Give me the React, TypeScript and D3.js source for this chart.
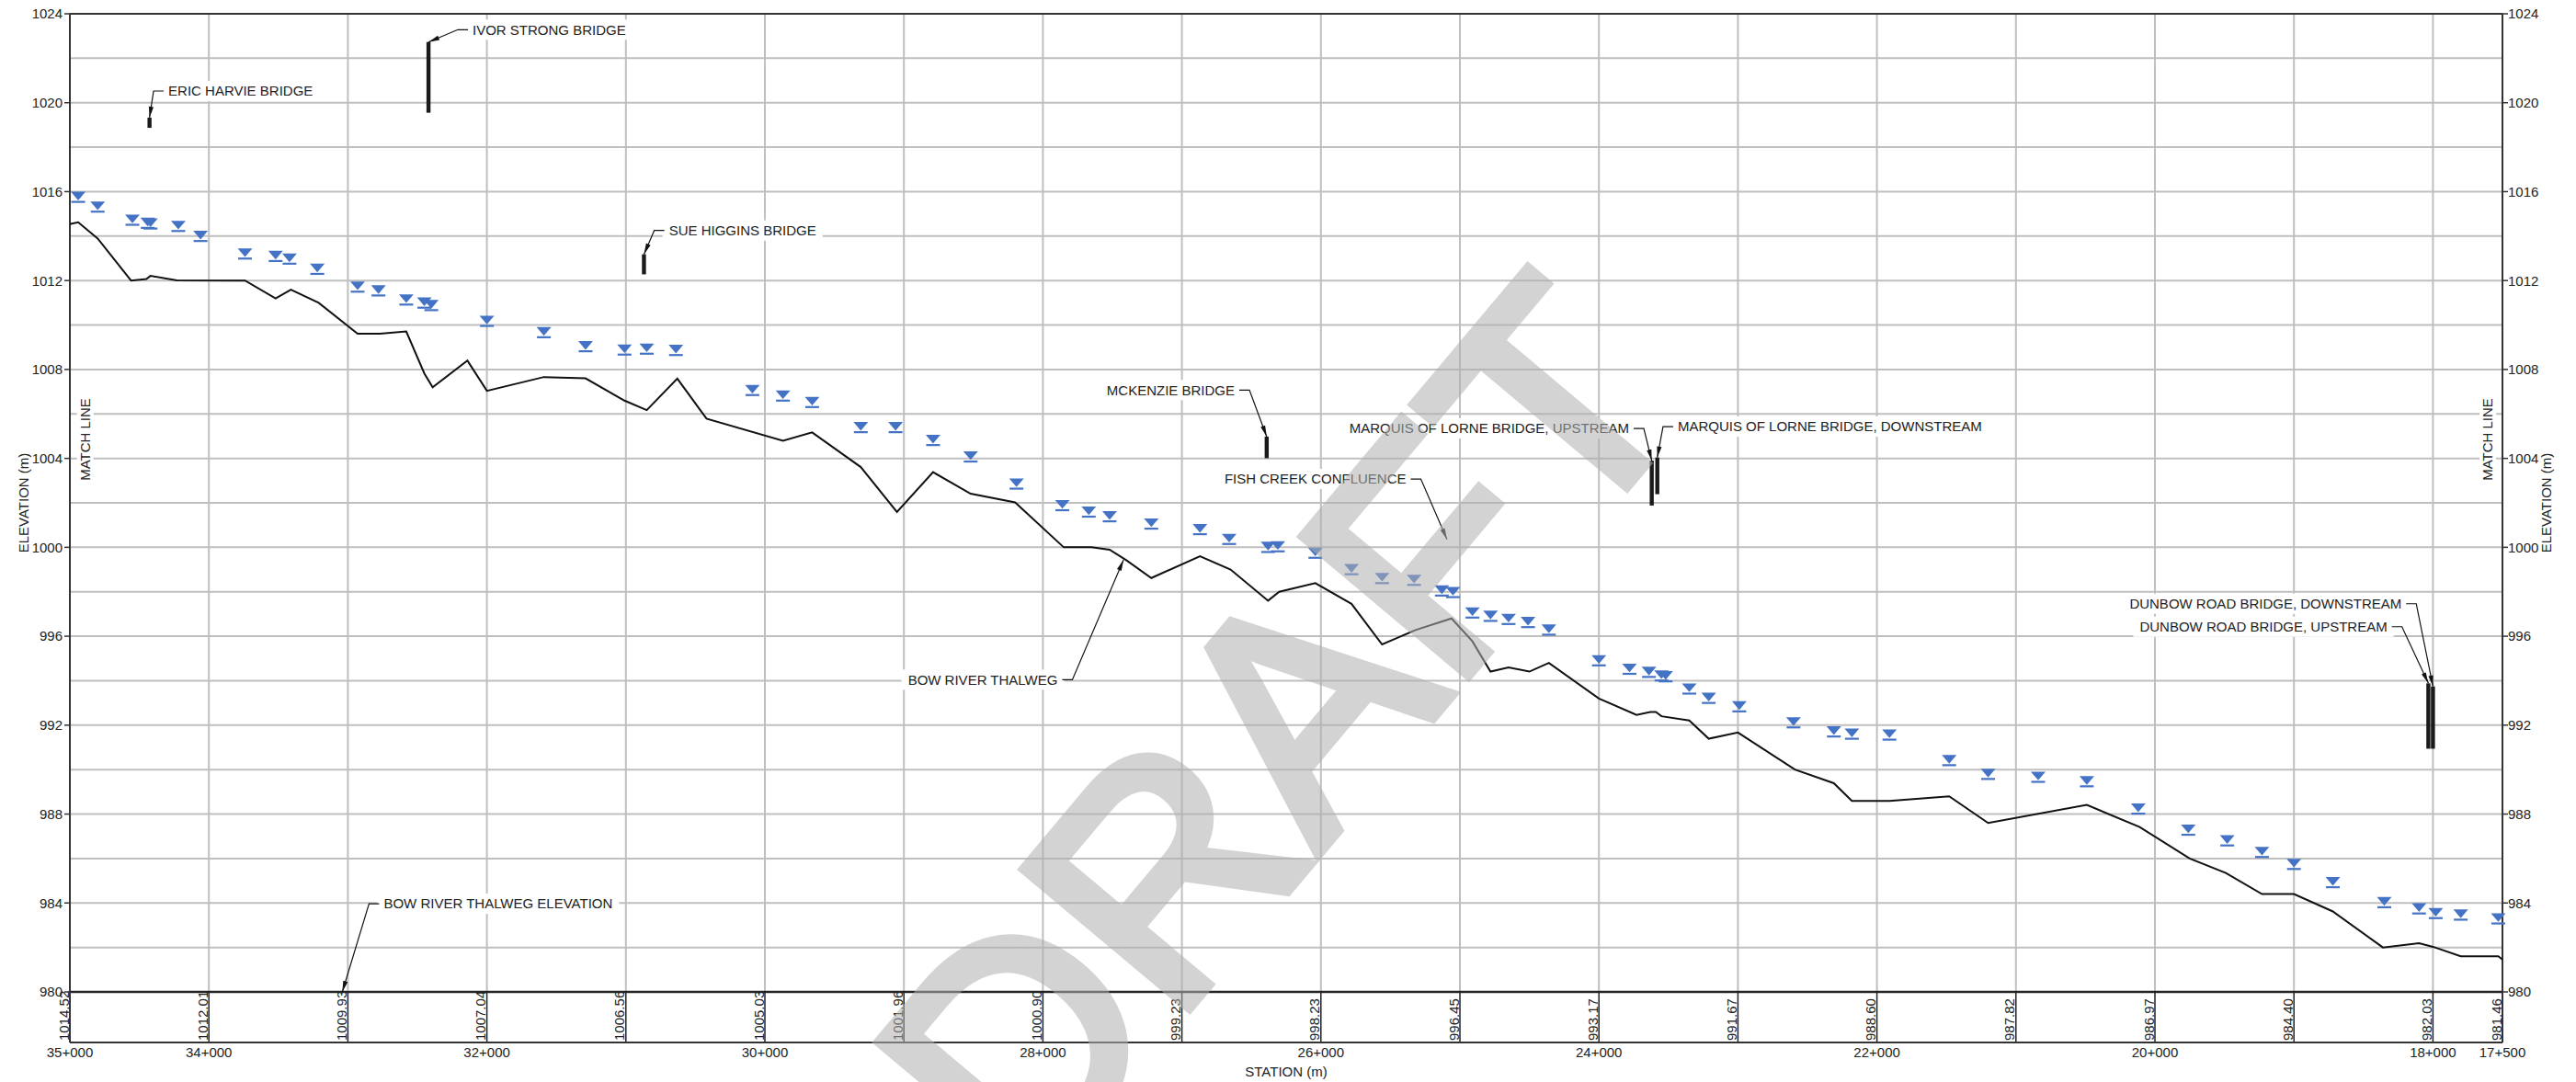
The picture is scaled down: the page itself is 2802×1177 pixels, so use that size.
import React, { useEffect, useRef } from 'react';
import * as d3 from 'd3';

// ---------- DATA ----------
const thalwegStation = [35.0, 34.94, 34.8, 34.56, 34.45, 34.42, 34.23, 33.74, 33.52, 33.41, 33.21, 32.93, 32.77, 32.58, 32.45, 32.39, 32.14, 32.0, 31.59, 31.29, 31.01, 30.85, 30.63, 30.42, 29.87, 29.66, 29.31, 29.05, 28.79, 28.52, 28.2, 27.85, 27.65, 27.52, 27.4, 27.22, 26.87, 26.65, 26.38, 26.3, 26.04, 25.78, 25.56, 25.32, 25.06, 24.91, 24.78, 24.65, 24.5, 24.36, 24.0, 23.73, 23.63, 23.59, 23.55, 23.35, 23.21, 23.0, 22.59, 22.31, 22.18, 21.91, 21.48, 21.2, 20.49, 20.11, 19.75, 19.49, 19.23, 19.0, 18.72, 18.36, 18.1, 18.0, 17.8, 17.53, 17.5];
const thalwegElev = [1014.54, 1014.62, 1013.89, 1012.0, 1012.07, 1012.21, 1012.01, 1012.0, 1011.2, 1011.59, 1011.0, 1009.61, 1009.61, 1009.71, 1007.82, 1007.2, 1008.4, 1007.04, 1007.66, 1007.6, 1006.6, 1006.17, 1007.59, 1005.79, 1004.79, 1005.17, 1003.61, 1001.59, 1003.38, 1002.41, 1002.02, 1000.0, 1000.0, 999.89, 999.42, 998.62, 999.6, 999.0, 997.6, 998.0, 998.39, 997.46, 995.63, 996.28, 996.8, 995.77, 994.41, 994.6, 994.41, 994.8, 993.2, 992.46, 992.59, 992.59, 992.4, 992.21, 991.39, 991.67, 990.0, 989.39, 988.59, 988.59, 988.8, 987.6, 988.41, 987.42, 986.0, 985.35, 984.4, 984.4, 983.62, 982.0, 982.19, 982.03, 981.6, 981.6, 981.46];

const waterStation = [34.94, 34.8, 34.55, 34.44, 34.42, 34.22, 34.06, 33.74, 33.52, 33.42, 33.22, 32.93, 32.78, 32.58, 32.45, 32.4, 32.0, 31.59, 31.29, 31.01, 30.85, 30.64, 30.09, 29.87, 29.66, 29.31, 29.06, 28.79, 28.52, 28.19, 27.86, 27.67, 27.52, 27.22, 26.87, 26.66, 26.38, 26.31, 26.04, 25.78, 25.56, 25.33, 25.13, 25.05, 24.91, 24.78, 24.65, 24.51, 24.36, 24.0, 23.78, 23.64, 23.55, 23.52, 23.35, 23.21, 22.99, 22.6, 22.31, 22.18, 21.91, 21.48, 21.2, 20.84, 20.49, 20.12, 19.76, 19.48, 19.23, 19.0, 18.72, 18.35, 18.1, 17.98, 17.8, 17.53];
const waterElev = [1015.75, 1015.31, 1014.72, 1014.58, 1014.55, 1014.44, 1013.99, 1013.2, 1013.09, 1012.97, 1012.51, 1011.71, 1011.54, 1011.13, 1010.99, 1010.88, 1010.17, 1009.66, 1009.03, 1008.88, 1008.92, 1008.86, 1007.06, 1006.81, 1006.52, 1005.39, 1005.39, 1004.81, 1004.07, 1002.85, 1001.88, 1001.59, 1001.38, 1001.05, 1000.8, 1000.36, 1000.0, 1000.03, 999.74, 999.0, 998.6, 998.52, 998.04, 997.97, 997.05, 996.9, 996.76, 996.62, 996.28, 994.9, 994.52, 994.38, 994.22, 994.18, 993.63, 993.21, 992.83, 992.11, 991.7, 991.6, 991.56, 990.41, 989.79, 989.66, 989.46, 988.23, 987.28, 986.8, 986.28, 985.74, 984.92, 984.02, 983.74, 983.53, 983.46, 983.29];

const bandStations = [35, 34, 33, 32, 31, 30, 29, 28, 27, 26, 25, 24, 23, 22, 21, 20, 19, 18, 17.5];
const bandLabels = ['1014.52', '1012.01', '1009.93', '1007.04', '1006.56', '1005.03', '1001.96', '1000.90', '999.23', '998.23', '996.45', '993.17', '991.67', '988.60', '987.82', '986.97', '984.40', '982.03', '981.46'];

const xTickStations = [35, 34, 32, 30, 28, 26, 24, 22, 20, 18, 17.5];
const xTickLabels = ['35+000', '34+000', '32+000', '30+000', '28+000', '26+000', '24+000', '22+000', '20+000', '18+000', '17+500'];

const yTickValues = [980, 984, 988, 992, 996, 1000, 1004, 1008, 1012, 1016, 1020, 1024];
const yTickLabels = ['980', '984', '988', '992', '996', '1000', '1004', '1008', '1012', '1016', '1020', '1024'];
const yGridValues = [982, 984, 986, 988, 990, 992, 994, 996, 998, 1000, 1002, 1004, 1006, 1008, 1010, 1012, 1014, 1016, 1018, 1020, 1022];

// annotations: target (station, elevation), optional bridge bar bottom
const annoText = ['ERIC HARVIE BRIDGE', 'IVOR STRONG BRIDGE', 'SUE HIGGINS BRIDGE', 'MCKENZIE BRIDGE', 'FISH CREEK CONFLUENCE', 'MARQUIS OF LORNE BRIDGE, UPSTREAM', 'MARQUIS OF LORNE BRIDGE, DOWNSTREAM', 'DUNBOW ROAD BRIDGE, DOWNSTREAM', 'DUNBOW ROAD BRIDGE, UPSTREAM', 'BOW RIVER THALWEG', 'BOW RIVER THALWEG ELEVATION'];
const annoStation = [34.427, 32.42, 30.87, 26.39, 25.093, 23.62, 23.58, 18.0, 18.033, 27.42, 33.04];
const annoTop = [1019.33, 1022.73, 1013.18, 1004.98, 1000.36, 1003.9, 1004.04, 993.74, 993.88, 999.44, 980.0];
const annoBottom: (number | null)[] = [1018.87, 1019.55, 1012.28, 1004.01, null, 1001.88, 1002.39, 990.94, 990.94, null, null];
// label anchor in data units
const annoLabelStation = [34.292, 32.103, 30.69, 26.62, 25.387, 23.783, 23.433, 18.226, 18.329, 27.894, 32.742];
const annoLabelElev = [1020.526, 1023.285, 1014.252, 1007.073, 1003.073, 1005.348, 1005.431, 997.462, 996.427, 994.045, 983.967];
const annoAnchor = ['start', 'start', 'start', 'end', 'end', 'end', 'start', 'end', 'end', 'end', 'start'];

export default function App() {
  const ref = useRef<SVGSVGElement>(null);

  useEffect(() => {
    document.body.style.margin = '0';
    const svg = d3.select(ref.current);
    svg.selectAll('*').remove();

    const L = 76, R = 2722, T = 15, B = 1079, BB = 1134;
    const x = d3.scaleLinear().domain([35, 17.5]).range([L, R]);
    const y = d3.scaleLinear().domain([980, 1024]).range([B, T]);
    const font = '"Liberation Sans", Arial, sans-serif';
    const fs = 15;
    const txtCol = '#222';

    const root = svg.append('g').attr('font-family', font).attr('font-size', fs);

    // grid
    const grid = root.append('g').attr('stroke', '#bfbfbf').attr('stroke-width', 2);
    grid.selectAll('line.h').data(yGridValues).join('line').attr('class', 'h')
      .attr('x1', L).attr('x2', R).attr('y1', (d) => y(d)).attr('y2', (d) => y(d));
    const innerStations = bandStations.filter((s) => s < 35 && s > 17.5);
    grid.selectAll('line.v').data(innerStations).join('line').attr('class', 'v')
      .attr('x1', (d) => x(d)).attr('x2', (d) => x(d)).attr('y1', T).attr('y2', B);

    // station band
    const band = root.append('g');
    band.selectAll('line').data(innerStations).join('line')
      .attr('x1', (d) => x(d)).attr('x2', (d) => x(d)).attr('y1', B).attr('y2', BB)
      .attr('stroke', '#222').attr('stroke-width', 1.5);
    band.selectAll('text').data(bandStations).join('text')
      .attr('transform', (d) => `translate(${x(d) - 1.5},${BB - 2}) rotate(-90)`)
      .attr('fill', txtCol).text((d, i) => bandLabels[i]);

    // frame
    const frame = root.append('g').attr('stroke', '#333').attr('fill', 'none');
    frame.append('line').attr('x1', L).attr('x2', R).attr('y1', T).attr('y2', T).attr('stroke-width', 2);
    frame.append('line').attr('x1', L).attr('x2', R).attr('y1', B).attr('y2', B).attr('stroke-width', 2.5).attr('stroke', '#222');
    frame.append('line').attr('x1', L).attr('x2', R).attr('y1', BB).attr('y2', BB).attr('stroke-width', 2);
    frame.append('line').attr('x1', L).attr('x2', L).attr('y1', T).attr('y2', BB).attr('stroke-width', 2);
    frame.append('line').attr('x1', R).attr('x2', R).attr('y1', T).attr('y2', BB).attr('stroke-width', 2);

    // y ticks
    const yt = root.append('g');
    yt.selectAll('line.l').data(yTickValues).join('line').attr('class', 'l')
      .attr('x1', L - 6).attr('x2', L).attr('y1', (d) => y(d)).attr('y2', (d) => y(d))
      .attr('stroke', '#333').attr('stroke-width', 1.5);
    yt.selectAll('line.r').data(yTickValues).join('line').attr('class', 'r')
      .attr('x1', R).attr('x2', R + 6).attr('y1', (d) => y(d)).attr('y2', (d) => y(d))
      .attr('stroke', '#333').attr('stroke-width', 1.5);
    yt.selectAll('text.l').data(yTickValues).join('text').attr('class', 'l')
      .attr('x', L - 8).attr('y', (d) => y(d)).attr('dy', '0.36em').attr('text-anchor', 'end')
      .attr('fill', txtCol).text((d, i) => yTickLabels[i]);
    yt.selectAll('text.r').data(yTickValues).join('text').attr('class', 'r')
      .attr('x', R + 6).attr('y', (d) => y(d)).attr('dy', '0.36em').attr('text-anchor', 'start')
      .attr('fill', txtCol).text((d, i) => yTickLabels[i]);

    // x tick labels
    root.append('g').selectAll('text').data(xTickStations).join('text')
      .attr('x', (d) => x(d)).attr('y', 1150).attr('text-anchor', 'middle')
      .attr('fill', txtCol).text((d, i) => xTickLabels[i]);
    root.append('text').attr('x', (L + R) / 2).attr('y', 1171).attr('text-anchor', 'middle')
      .attr('fill', txtCol).text('STATION (m)');

    // axis titles
    const vLabel = (cx: number, cy: number, t: string, box: boolean) => {
      const gg = root.append('g');
      const tx = gg.append('text').attr('transform', `translate(${cx + 5.4},${cy}) rotate(-90)`)
        .attr('text-anchor', 'middle').attr('fill', txtCol).text(t);
      if (box) {
        const len = (tx.node() as SVGTextElement).getComputedTextLength();
        gg.insert('rect', 'text').attr('x', cx - 9).attr('y', cy - len / 2 - 8)
          .attr('width', 18).attr('height', len + 16).attr('fill', '#fff');
      }
    };
    vLabel(25.5, 547, 'ELEVATION (m)', false);
    vLabel(2770, 547, 'ELEVATION (m)', false);
    vLabel(92.7, 478, 'MATCH LINE', true);
    vLabel(2706, 478, 'MATCH LINE', true);

    // thalweg line
    const thalweg = thalwegStation.map((s, i) => [s, thalwegElev[i]] as [number, number]);
    root.append('path').datum(thalweg)
      .attr('d', d3.line<[number, number]>().x((d) => x(d[0])).y((d) => y(d[1])))
      .attr('fill', 'none').attr('stroke', '#111').attr('stroke-width', 2).attr('stroke-linejoin', 'miter');

    // water surface markers
    const ws = waterStation.map((s, i) => [s, waterElev[i]] as [number, number]);
    const blue = '#4472c4';
    const mk = root.append('g').attr('fill', blue);
    mk.selectAll('path').data(ws).join('path')
      .attr('d', (d) => {
        const cx = x(d[0]), cy = y(d[1]);
        return `M${cx - 8},${cy - 6}L${cx + 8},${cy - 6}L${cx},${cy + 3.4}Z`;
      });
    mk.selectAll('rect').data(ws).join('rect')
      .attr('x', (d) => x(d[0]) - 7.5).attr('y', (d) => y(d[1]) + 4).attr('width', 15).attr('height', 2.2);

    // bridge bars
    const bars = annoStation.map((s, i) => ({ s, top: annoTop[i], bot: annoBottom[i] })).filter((d) => d.bot !== null);
    root.append('g').selectAll('rect').data(bars).join('rect')
      .attr('x', (d) => x(d.s) - 2.2).attr('width', 4.4)
      .attr('y', (d) => y(d.top)).attr('height', (d) => y(d.bot as number) - y(d.top))
      .attr('fill', '#1a1a1a');

    // annotations
    const ann = root.append('g');
    annoText.forEach((t, i) => {
      const gg = ann.append('g');
      const lx = x(annoLabelStation[i]);
      const ly = y(annoLabelElev[i]);
      const anchor = annoAnchor[i];
      const tx = gg.append('text').attr('x', lx).attr('y', ly).attr('dy', '0.36em')
        .attr('text-anchor', anchor).attr('fill', txtCol).text(t);
      const len = (tx.node() as SVGTextElement).getComputedTextLength();
      const x0 = anchor === 'start' ? lx : lx - len;
      gg.insert('rect', 'text').attr('x', x0 - 7).attr('y', ly - 11).attr('width', len + 14).attr('height', 22).attr('fill', '#fff');
      // leader
      const tX = x(annoStation[i]);
      const tY = y(annoTop[i]);
      const sx = anchor === 'start' ? lx - 5 : lx + 5;
      const ex = anchor === 'start' ? sx - 11 : sx + 11;
      gg.append('path').attr('d', `M${sx},${ly}L${ex},${ly}L${tX},${tY}`)
        .attr('fill', 'none').attr('stroke', '#111').attr('stroke-width', 1.2);
      const ang = Math.atan2(tY - ly, tX - ex);
      const al = 12, aw = 2.6;
      const bx = tX - al * Math.cos(ang), by = tY - al * Math.sin(ang);
      const px = -Math.sin(ang) * aw, py = Math.cos(ang) * aw;
      gg.append('path').attr('d', `M${tX},${tY}L${bx + px},${by + py}L${bx - px},${by - py}Z`).attr('fill', '#111');
    });

    // watermark
    root.append('text').attr('transform', 'translate(1118,1305) rotate(-50)')
      .attr('font-size', 340).attr('fill', '#b0b0b0').attr('stroke', '#b0b0b0')
      .attr('stroke-width', 12).attr('stroke-linejoin', 'miter')
      .attr('opacity', 0.55).text('DRAFT');
  }, []);

  return <svg ref={ref} width={2802} height={1177} style={{ display: 'block', background: '#fff' }} />;
}
